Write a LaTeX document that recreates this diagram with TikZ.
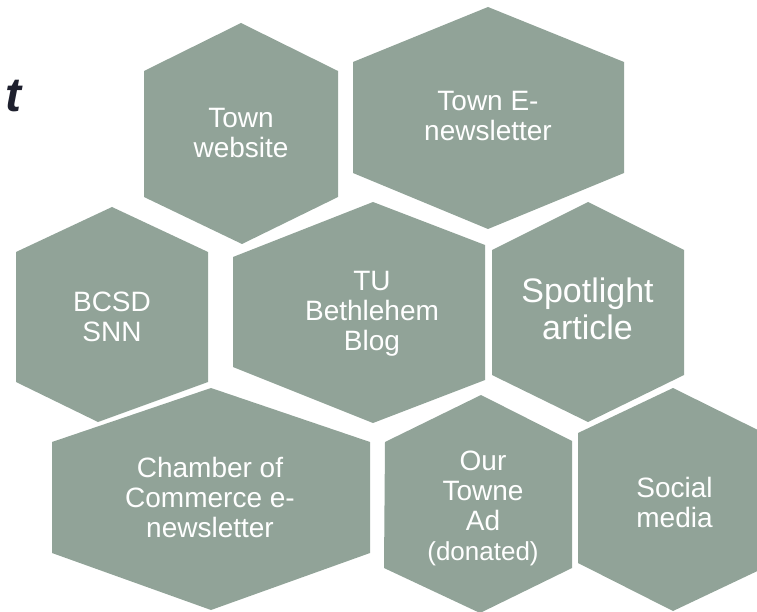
\documentclass[tikz,border=0pt]{standalone}
\usepackage{fontspec}
\setmainfont{Liberation Sans}
\begin{document}
\definecolor{hexfill}{RGB}{145,163,152}
\definecolor{darkink}{RGB}{30,32,46}
\begin{tikzpicture}[x=1pt,y=-1pt,
  hexshape/.style={fill=hexfill},
  hexlabel/.style={text=white,align=center,inner sep=0pt,anchor=center,
    font=\fontsize{28}{30}\selectfont},
  biglabel/.style={text=white,align=center,inner sep=0pt,anchor=center,
    font=\fontsize{34}{37}\selectfont}]
\useasboundingbox (0,0) rectangle (757,612);
\clip (0,0) rectangle (757,612);
% partial title
\node[anchor=base east,inner sep=0pt,text=darkink,
  font=\fontsize{48}{50}\selectfont\bfseries\itshape] (title) at (22,112) {t};
% hexagons
\fill[hexshape] (241,23) -- (338,71) -- (338,197) -- (242,244) -- (144,197) -- (144,71) -- cycle;
\fill[hexshape] (488,7) -- (624,62) -- (624,173) -- (488,229) -- (353,173) -- (353,62) -- cycle;
\fill[hexshape] (112,207) -- (208,252) -- (208,382) -- (98,422) -- (16,382) -- (16,252) -- cycle;
\fill[hexshape] (373,202) -- (485,245) -- (485,380) -- (373,423) -- (233,367) -- (233,257) -- cycle;
\fill[hexshape] (588,202) -- (684,250) -- (684,375) -- (588,422) -- (492,375) -- (492,250) -- cycle;
\fill[hexshape] (211,388) -- (370,442) -- (370,553) -- (211,610) -- (52,553) -- (52,442) -- cycle;
\fill[hexshape] (481,395) -- (572,441) -- (572,568) -- (480,613) -- (384,568) -- (385,442) -- cycle;
\fill[hexshape] (673,388) -- (768,435) -- (768,566) -- (673,611) -- (578,563) -- (578,433) -- cycle;
% labels
\node[hexlabel] (web) at (241,136.5) {\strut Town\\website\strut};
\node[hexlabel] (enews) at (488,120) {\strut Town E-\\newsletter\strut};
\node[hexlabel] (bcsd) at (112,320) {\strut BCSD\\SNN\strut};
\node[hexlabel] (tu) at (372,314) {\strut TU\\Bethlehem\\Blog\strut};
\node[biglabel] (spot) at (587.5,314) {\strut Spotlight\\article\strut};
\node[hexlabel] (chamber) at (210,501.7) {\strut Chamber of\\Commerce e-\\newsletter\strut};
\node[hexlabel] (towne) at (483,509) {\strut Our\\Towne\\Ad\\{\fontsize{26}{30}\selectfont (donated)}\strut};
\node[hexlabel] (social) at (674.5,506.5) {\strut Social\\media\strut};
\end{tikzpicture}
\end{document}
